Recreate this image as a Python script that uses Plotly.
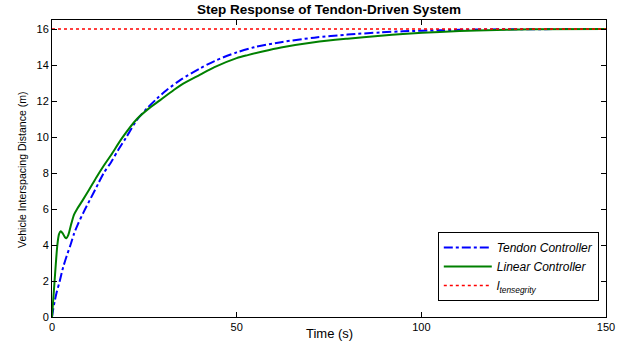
import plotly.graph_objects as go

# Tendon controller (blue, dash-dot)
t_tendon = [0, 0.3, 0.7, 1.3, 2.1, 3, 4, 5, 6, 7, 8.5, 10.5, 12.5, 14, 16, 18, 20, 23, 26, 28.5, 31, 35, 40, 44, 50, 55, 62, 71, 80, 89, 95, 105, 115, 130, 150]
y_tendon = [0, 0.4, 0.85, 1.4, 2.0, 2.75, 3.4, 4.0, 4.65, 5.15, 5.8, 6.6, 7.4, 8.0, 8.6, 9.3, 9.95, 10.95, 11.65, 12.15, 12.6, 13.2, 13.8, 14.22, 14.7, 15.0, 15.27, 15.52, 15.69, 15.81, 15.87, 15.93, 15.97, 15.99, 16.0]

# Linear controller (green, solid)
t_linear = [0, 0.35, 0.7, 1.05, 1.45, 1.9, 2.35, 2.9, 3.5, 3.9, 4.4, 5.25, 6.0, 6.8, 8.2, 10, 12, 14, 16, 19, 23, 26, 29.3, 32.9, 35, 40, 44, 50, 53, 57, 62, 71, 80, 89, 95, 105, 115, 130, 150]
y_linear = [0, 1.0, 2.0, 3.0, 4.0, 4.6, 4.76, 4.65, 4.43, 4.38, 4.55, 5.2, 5.7, 6.0, 6.45, 7.05, 7.75, 8.4, 9.0, 9.95, 11.0, 11.55, 12.05, 12.6, 12.9, 13.45, 13.88, 14.38, 14.55, 14.75, 14.97, 15.26, 15.46, 15.63, 15.72, 15.84, 15.92, 15.98, 16.0]

# Tensegrity length reference (red, dotted)
t_ref = [0, 150]
y_ref = [16, 16]

x_ticks = [0, 50, 100, 150]
y_ticks = [0, 2, 4, 6, 8, 10, 12, 14, 16]

FONT = "Liberation Sans, Arial, sans-serif"

W, H = 633, 344
L, R, T, B = 52, 27, 20, 27
PW, PH = W - L - R, H - T - B

fig = go.Figure()
fig.add_trace(go.Scatter(x=t_tendon, y=y_tendon, mode="lines", name="<i>Tendon Controller</i>",
                         line=dict(color="#0000ff", width=2, dash="dashdot", shape="spline", smoothing=0.8)))
fig.add_trace(go.Scatter(x=t_linear, y=y_linear, mode="lines", name="<i>Linear Controller</i>",
                         line=dict(color="#008000", width=2, shape="spline", smoothing=0.8)))
fig.add_trace(go.Scatter(x=t_ref, y=y_ref, mode="lines", name="<i>l</i><sub><i>tensegrity</i></sub>",
                         line=dict(color="#ff0000", width=1.5, dash="dot")))

fig.update_layout(
    width=W, height=H,
    margin=dict(l=L, r=R, t=T, b=B, autoexpand=False),
    plot_bgcolor="white", paper_bgcolor="white",
    font=dict(family=FONT, size=11, color="black"),
    title=dict(text="<b>Step Response of Tendon-Driven System</b>", x=329 / W, xanchor="center",
               y=1 - 9 / H, yanchor="middle", font=dict(size=13.5, family=FONT)),
    showlegend=True,
    legend=dict(x=0.987, y=(317 - 301) / PH, xanchor="right", yanchor="bottom",
                bordercolor="black", borderwidth=1, bgcolor="white",
                font=dict(size=12, family=FONT), tracegroupgap=0, itemwidth=48),
    annotations=[
        dict(text="Time (s)", xref="paper", yref="paper", x=0.5, y=(317 - 333) / PH,
             xanchor="center", yanchor="middle", showarrow=False, font=dict(size=13)),
        dict(text="Vehicle Interspacing Distance (m)", xref="paper", yref="paper",
             x=(22 - L) / PW, y=(317 - 170) / PH, textangle=-90,
             xanchor="center", yanchor="middle", showarrow=False, font=dict(size=10.5)),
    ],
)
fig.update_xaxes(range=[0, 150], tickvals=x_ticks, ticks="inside", ticklen=5, tickcolor="black",
                 automargin=False,
                 showline=True, linecolor="black", linewidth=1, mirror="allticks", showgrid=False,
                 zeroline=False)
fig.update_yaxes(range=[0, 16.5], tickvals=y_ticks, ticks="inside", ticklen=5, tickcolor="black",
                 automargin=False,
                 showline=True, linecolor="black", linewidth=1, mirror="allticks", showgrid=False,
                 zeroline=False)

fig.write_html("out.html")
